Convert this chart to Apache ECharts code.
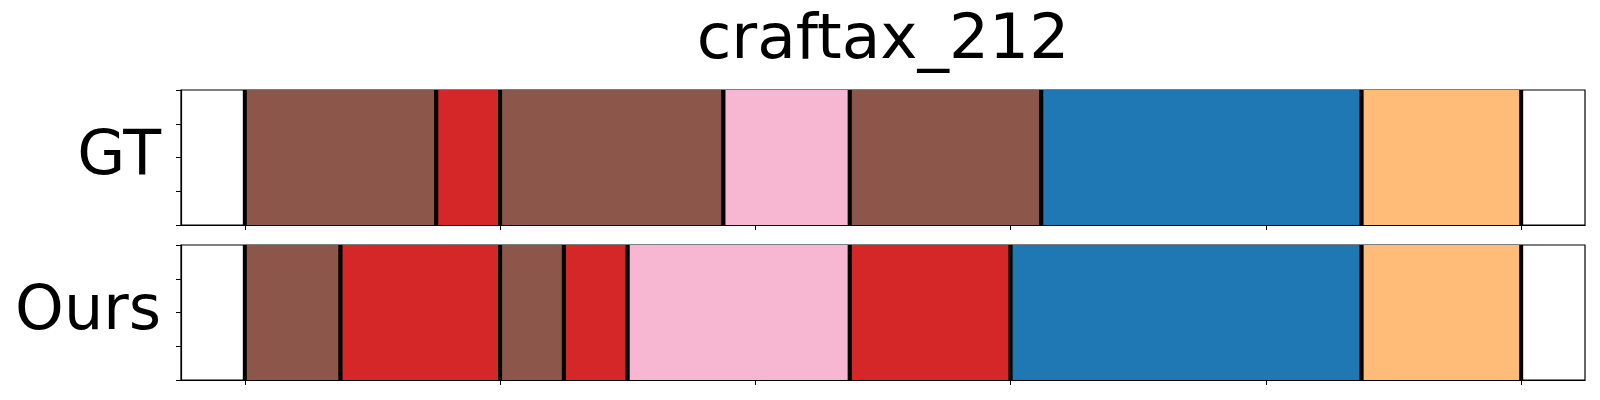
<!DOCTYPE html>
<html>
<head>
<meta charset="utf-8">
<script src="https://cdn.jsdelivr.net/npm/echarts@6/dist/echarts.min.js"></script>
<style>
  html, body { margin: 0; padding: 0; background: #fff; }
  #chart { width: 1600px; height: 400px; }
</style>
</head>
<body>
<div id="chart"></div>
<script>
// ---- data ----
const chartTitle = 'craftax_212';
const rowLabels = ['GT', 'Ours'];
const xTicks = [0, 100, 200, 300, 400, 500];
const yTicks = [0, 0.25, 0.5, 0.75, 1];

const gtStarts  = [0, 75, 100, 187.5, 237, 312, 437.5];
const gtEnds    = [75, 100, 187.5, 237, 312, 437.5, 500];
const gtClasses = ['brown', 'red', 'brown', 'pink', 'brown', 'blue', 'orange'];

const oursStarts  = [0, 37.5, 100, 125, 150, 237, 300, 437.5];
const oursEnds    = [37.5, 100, 125, 150, 237, 300, 437.5, 500];
const oursClasses = ['brown', 'red', 'brown', 'red', 'pink', 'red', 'blue', 'orange'];

const palette = {
  brown: '#8c564b',
  red: '#d62728',
  pink: '#f7b6d2',
  blue: '#1f77b4',
  orange: '#ffbb78'
};

// ---- build ----
function toData(starts, ends, classes) {
  return starts.map((s, i) => ({
    value: [s, ends[i]],
    itemStyle: { color: palette[classes[i]] }
  }));
}

function renderItem(params, api) {
  const s = api.value(0), e = api.value(1);
  const p0 = api.coord([s, 1]);
  const p1 = api.coord([e, 0]);
  const color = api.visual('color');
  return {
    type: 'group',
    children: [
      { type: 'rect', shape: { x: p0[0], y: p0[1], width: p1[0] - p0[0], height: p1[1] - p0[1] },
        style: { fill: color, stroke: color, lineWidth: 1 } },
      { type: 'line', shape: { x1: p0[0], y1: p0[1], x2: p0[0], y2: p1[1] },
        style: { stroke: '#000', lineWidth: 4 } },
      { type: 'line', shape: { x1: p1[0], y1: p0[1], x2: p1[0], y2: p1[1] },
        style: { stroke: '#000', lineWidth: 4 } }
    ]
  };
}

const gridTops = [90, 245];
const gridH = 135;

const chart = echarts.init(document.getElementById('chart'), null, { renderer: 'canvas' });

const grids = gridTops.map(t => ({
  left: 181, right: 15, top: t, height: gridH,
  show: true, borderColor: '#000', borderWidth: 1.2, backgroundColor: 'transparent'
}));

const xAxes = gridTops.map((t, i) => ({
  type: 'value', gridIndex: i, min: -25, max: 525,
  axisLine: { show: true, onZero: false, lineStyle: { color: '#000', width: 1.2 } },
  axisTick: { show: true, customValues: xTicks, length: 5, lineStyle: { color: '#000', width: 1 } },
  axisLabel: { show: false },
  splitLine: { show: false }
}));

const yAxes = gridTops.map((t, i) => ({
  type: 'value', gridIndex: i, min: 0, max: 1, interval: 0.25,
  name: rowLabels[i], nameLocation: 'middle', nameRotate: 0, nameGap: 20,
  nameTextStyle: { fontFamily: 'DejaVu Sans', fontSize: 62, color: '#000', align: 'right',
                   verticalAlign: 'middle', padding: [0, 0, 12, 0] },
  axisLine: { show: true, onZero: false, lineStyle: { color: '#000', width: 1.2 } },
  axisTick: { show: true, customValues: yTicks, length: 5, lineStyle: { color: '#000', width: 1 } },
  axisLabel: { show: false },
  splitLine: { show: false }
}));

chart.setOption({
  animation: false,
  backgroundColor: '#fff',
  title: {
    text: chartTitle, left: 878, top: 5, textAlign: 'center',
    textStyle: { fontFamily: 'DejaVu Sans', fontSize: 63, fontWeight: 'normal', color: '#000' }
  },
  grid: grids,
  xAxis: xAxes,
  yAxis: yAxes,
  series: [
    { type: 'custom', xAxisIndex: 0, yAxisIndex: 0, renderItem: renderItem, clip: true,
      encode: { x: [0, 1] }, data: toData(gtStarts, gtEnds, gtClasses) },
    { type: 'custom', xAxisIndex: 1, yAxisIndex: 1, renderItem: renderItem, clip: true,
      encode: { x: [0, 1] }, data: toData(oursStarts, oursEnds, oursClasses) }
  ]
});
</script>
</body>
</html>
